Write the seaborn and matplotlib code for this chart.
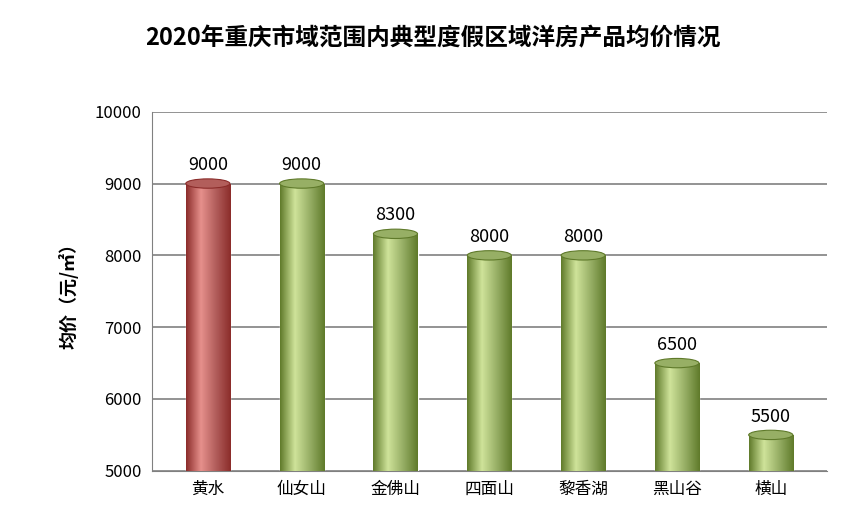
import numpy as np
import pandas as pd
import matplotlib.pyplot as plt
import matplotlib.patches as mpatches
import seaborn as sns

# data
areas = ['黄水', '仙女山', '金佛山', '四面山', '黎香湖', '黑山谷', '横山']
prices = [9000, 9000, 8300, 8000, 8000, 6500, 5500]
highlight = '黄水'

sns.set_style("white")
plt.rcParams['font.family'] = ['Noto Sans CJK SC', 'DejaVu Sans']

df = pd.DataFrame({'area': areas, 'price': prices})
base = 5000

fig = plt.figure(figsize=(8.66, 5.32), dpi=100)
ax = fig.add_axes([0.175, 0.115, 0.78, 0.675])

palette = {a: ('#c0504d' if a == highlight else '#9bbb59') for a in areas}
sns.barplot(data=df, x='area', y='price', hue='area', palette=palette,
            width=0.47, ax=ax, legend=False)

ax.set_ylim(base, 10000)
ax.set_xlim(-0.6, len(areas) - 0.4)
ax.set_yticks(range(5000, 10001, 1000))
ax.yaxis.grid(True, color='#808080', lw=1.2)
ax.set_axisbelow(True)
for s in ['top', 'right']:
    ax.spines[s].set_visible(False)
ax.spines['left'].set_color('#808080')
ax.spines['bottom'].set_color('#808080')

# cylinder shading + caps
cap_h = 130
for bar, a in zip(ax.patches, areas):
    x0, w = bar.get_x(), bar.get_width()
    top = bar.get_height()
    bar.set_y(base)
    bar.set_height(top - base)
    light, dark = ('#e6908c', '#8b2c2a') if a == highlight else ('#cfe39a', '#5f7a2a')
    cmap = sns.blend_palette([dark, light, bar.get_facecolor(), dark], as_cmap=True)
    grad = np.linspace(0, 1, 256).reshape(1, -1)
    im = ax.imshow(grad, extent=[x0, x0 + w, base, top], aspect='auto',
                   cmap=cmap, zorder=3)
    im.set_clip_path(bar)
    bar.set_zorder(2)
    ax.add_patch(mpatches.Ellipse((x0 + w / 2, top), w, cap_h,
                                  facecolor=bar.get_facecolor(), edgecolor=dark,
                                  lw=0.8, zorder=4))
    ax.text(x0 + w / 2, top + 130, f'{top:.0f}', ha='center', va='bottom',
            fontsize=13, color='black', zorder=5)

ax.set_xlabel('')
ax.set_ylabel('均价（元/㎡）', fontsize=13, fontweight='bold', labelpad=12,
              color='black')
ax.tick_params(axis='both', labelsize=12, colors='black')
fig.suptitle('2020年重庆市域范围内典型度假区域洋房产品均价情况',
             fontsize=17, fontweight='bold', color='black', y=0.95)

fig.savefig('out.png', dpi=100)
